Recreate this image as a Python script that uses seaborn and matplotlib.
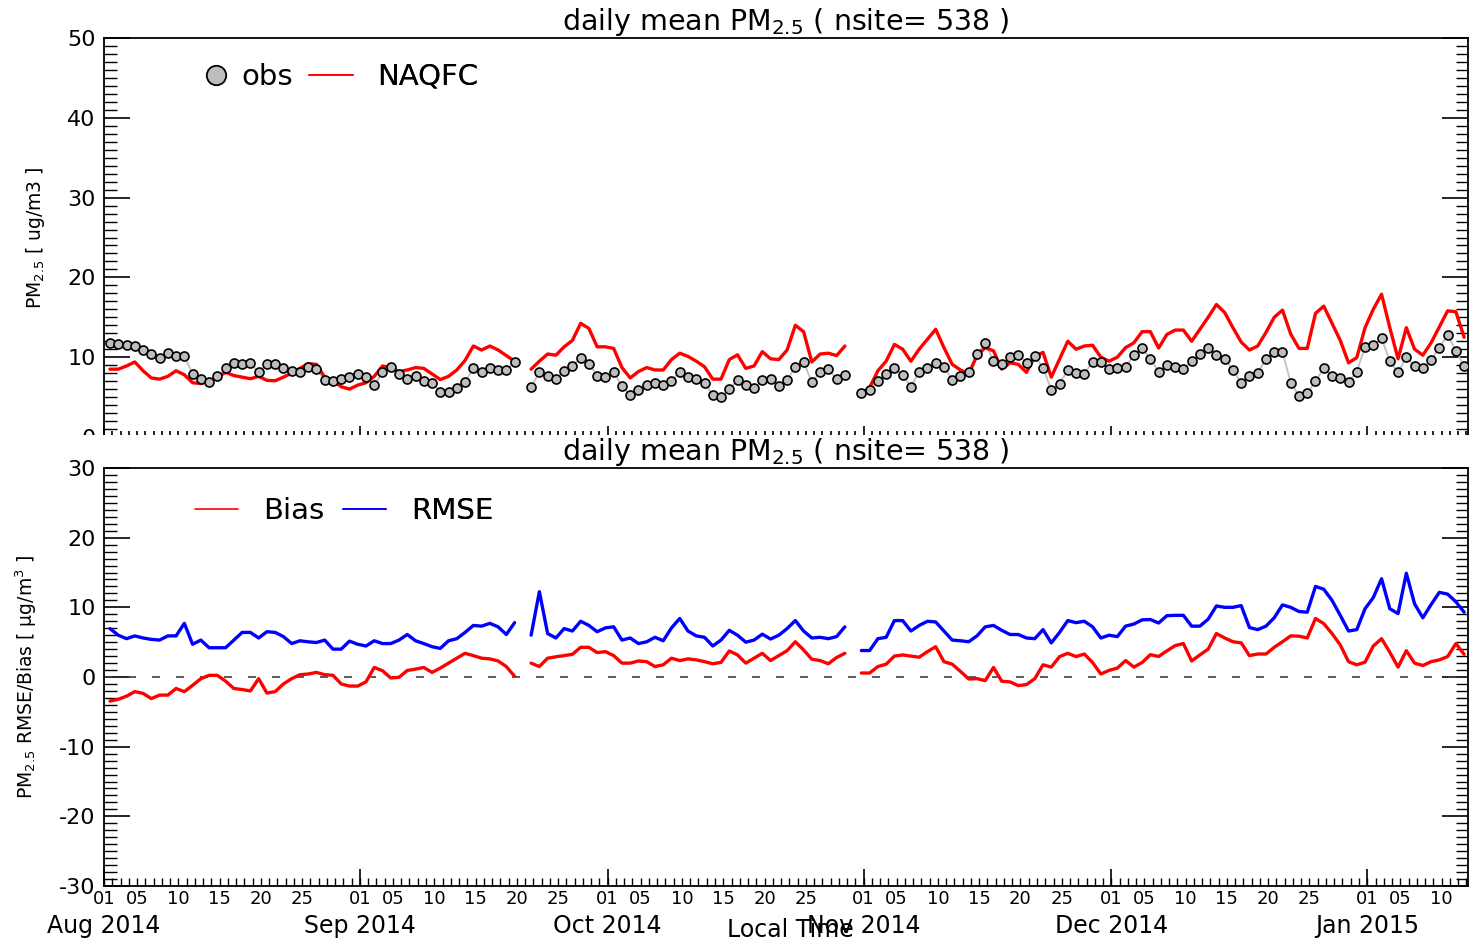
import numpy as np
import pandas as pd
import matplotlib
matplotlib.use("Agg")
import matplotlib.pyplot as plt
import matplotlib.dates as mdates
import seaborn as sns
from matplotlib.ticker import MultipleLocator, FuncFormatter
from matplotlib.lines import Line2D
from matplotlib.patches import Rectangle

nan = np.nan
# ---------------- data (daily, from 2014-08-01, 165 days; NaN = missing day) -------------
obs = ([11.8, 11.6, 11.5, 11.4, 10.9, 10.4, 9.9, 10.5, 10.1, 10.1,
        7.9, 7.3, 6.9, 7.6, 8.6, 9.25, 9.2, 9.3, 8.1, 9.2,
        9.2, 8.6, 8.3, 8.2, 8.8, 8.5, 7.1, 7.0, 7.25, 7.5,
        7.9, 7.5, 6.5, 8.1, 8.8, 7.9, 7.3, 7.6, 7.0, 6.75,
        5.7, 5.7, 6.1, 6.9, 8.6, 8.1, 8.7, 8.4, 8.4, 9.4]
       + [nan]
       + [6.3, 8.1, 7.7, 7.25, 8.3, 8.9, 9.9, 9.2, 7.7, 7.5,
          8.1, 6.4, 5.25, 5.9, 6.5, 6.8, 6.5, 7.0, 8.2, 7.5,
          7.25, 6.8, 5.3, 4.95, 6.0, 7.1, 6.5, 6.1, 7.1, 7.3,
          6.4, 7.1, 8.8, 9.4, 6.9, 8.1, 8.5, 7.3, 7.75]
       + [nan]
       + [5.5, 5.9, 7.0, 7.95, 8.6, 7.8, 6.3, 8.2, 8.7, 9.3,
          8.8, 7.2, 7.7, 8.2, 10.4, 11.8, 9.5, 9.1, 10.0, 10.3,
          9.3, 10.1, 8.7, 5.9, 6.7, 8.4, 8.0, 7.95, 9.4, 9.4,
          8.5, 8.6, 8.8, 10.25, 11.1, 9.8, 8.2, 9.05]
       + [8.8, 8.5, 9.5, 10.4, 11.1, 10.3, 9.75, 8.4, 6.75, 7.7,
          8.0, 9.8, 10.7, 10.7, 6.8, 5.2, 5.5, 7.0, 8.6, 7.7,
          7.4, 6.9, 8.2, 11.3, 11.5, 12.4, 9.5, 8.1, 10.0, 8.9,
          8.6, 9.7, 11.2, 12.8, 10.8, 8.9])

naqfc = ([8.5, 8.5, 8.9, 9.4, 8.3, 7.4, 7.25, 7.6, 8.3, 7.8,
          6.8, 6.7, 7.0, 7.5, 8.1, 7.7, 7.5, 7.3, 7.6, 7.1,
          7.05, 7.5, 8.0, 8.6, 9.2, 9.1, 7.5, 7.1, 6.3, 6.0,
          6.5, 6.8, 7.6, 8.9, 8.7, 8.2, 8.4, 8.7, 8.6, 7.9,
          7.2, 7.6, 8.4, 9.6, 11.4, 10.9, 11.4, 10.9, 10.2, 9.5]
         + [nan]
         + [8.5, 9.5, 10.4, 10.25, 11.3, 12.1, 14.25, 13.6, 11.3, 11.3,
            11.1, 8.7, 7.4, 8.2, 8.7, 8.4, 8.4, 9.7, 10.5, 10.1,
            9.5, 8.8, 7.25, 7.25, 9.7, 10.3, 8.6, 8.9, 10.7, 9.8,
            9.7, 10.9, 14.0, 13.2, 9.4, 10.4, 10.5, 10.2, 11.4]
         + [nan]
         + [5.5, 6.2, 8.3, 9.5, 11.6, 11.0, 9.5, 11.0, 12.25, 13.5,
            11.2, 9.1, 8.4, 7.9, 10.2, 11.2, 10.8, 8.5, 9.3, 9.1,
            8.1, 10.1, 10.6, 7.5, 9.75, 12.0, 11.0, 11.4, 11.5, 10.0,
            9.5, 10.0, 11.2, 11.8, 13.2, 13.2, 11.15, 12.85]
         + [13.4, 13.4, 12.0, 13.5, 15.0, 16.6, 15.6, 13.7, 11.9, 10.9,
            11.4, 13.1, 15.0, 15.9, 12.9, 11.1, 11.1, 15.5, 16.4, 14.25,
            12.1, 9.3, 9.95, 13.7, 16.0, 17.9, 13.7, 9.8, 13.7, 11.0,
            10.25, 11.8, 13.8, 15.8, 15.7, 12.5])

rmse = ([6.95, 6.0, 5.5, 5.9, 5.6, 5.4, 5.3, 5.9, 5.9, 7.7,
         4.7, 5.3, 4.2, 4.2, 4.2, 5.3, 6.4, 6.4, 5.6, 6.5,
         6.4, 5.8, 4.8, 5.2, 5.05, 4.95, 5.3, 4.0, 4.0, 5.15,
         4.7, 4.45, 5.2, 4.8, 4.8, 5.3, 6.1, 5.2, 4.8, 4.35,
         4.1, 5.2, 5.5, 6.4, 7.4, 7.3, 7.7, 7.2, 6.1, 7.8]
        + [nan]
        + [6.0, 12.25, 6.24, 5.6, 6.95, 6.6, 8.0, 7.4, 6.5, 7.05,
           7.2, 5.3, 5.6, 4.8, 5.05, 5.7, 5.2, 7.05, 8.4, 6.6,
           5.9, 5.7, 4.45, 5.3, 6.7, 6.0, 5.0, 5.3, 6.15, 5.45,
           6.0, 6.95, 8.1, 6.6, 5.6, 5.7, 5.5, 5.8, 7.2]
        + [nan]
        + [3.8, 3.8, 5.5, 5.7, 8.1, 8.1, 6.6, 7.4, 8.0, 7.9,
           6.6, 5.3, 5.2, 5.06, 5.9, 7.2, 7.4, 6.7, 6.1, 6.1,
           5.6, 5.5, 6.8, 4.9, 6.4, 8.1, 7.8, 8.0, 7.2, 5.6,
           6.0, 5.8, 7.3, 7.6, 8.2, 8.25, 7.75, 8.8]
        + [8.85, 8.85, 7.3, 7.3, 8.3, 10.2, 10.0, 10.0, 10.25, 7.1,
           6.8, 7.3, 8.5, 10.35, 10.0, 9.4, 9.3, 13.0, 12.6, 11.0,
           8.85, 6.6, 6.8, 9.8, 11.4, 14.1, 9.8, 9.1, 14.9, 10.5,
           8.5, 10.4, 12.15, 11.9, 10.8, 9.3])

bias = ([-3.45, -3.2, -2.75, -2.1, -2.35, -3.1, -2.6, -2.6, -1.65, -2.1,
         -1.2, -0.24, 0.24, 0.24, -0.6, -1.65, -1.8, -2.0, -0.24, -2.3,
         -2.1, -1.0, -0.24, 0.33, 0.43, 0.66, 0.33, 0.24, -1.0, -1.3,
         -1.3, -0.7, 1.37, 0.9, -0.14, -0.05, 0.94, 1.13, 1.37, 0.66,
         1.28, 1.99, 2.7, 3.4, 3.07, 2.7, 2.6, 2.3, 1.5, 0.1]
        + [nan]
        + [1.99, 1.5, 2.7, 2.9, 3.07, 3.26, 4.26, 4.26, 3.5, 3.64,
           3.07, 1.99, 1.99, 2.3, 2.2, 1.5, 1.75, 2.7, 2.36, 2.6,
           2.46, 2.2, 1.9, 2.1, 3.74, 3.17, 1.99, 2.7, 3.4, 2.36,
           3.07, 3.78, 5.06, 3.88, 2.55, 2.36, 1.9, 2.8, 3.4]
        + [nan]
        + [0.57, 0.57, 1.5, 1.84, 3.0, 3.17, 3.0, 2.84, 3.64, 4.35,
           2.2, 1.84, 0.8, -0.28, -0.24, -0.52, 1.37, -0.61, -0.7, -1.23,
           -1.09, -0.24, 1.75, 1.42, 2.93, 3.4, 2.93, 3.3, 2.08, 0.43,
           0.95, 1.28, 2.36, 1.42, 2.08, 3.2, 2.95, 3.75]
        + [4.5, 4.8, 2.3, 3.17, 4.0, 6.24, 5.6, 5.06, 4.9, 3.07,
           3.3, 3.3, 4.26, 5.06, 5.9, 5.86, 5.6, 8.4, 7.66, 6.24,
           4.6, 2.2, 1.75, 2.13, 4.45, 5.5, 3.55, 1.42, 3.78, 1.99,
           1.65, 2.2, 2.46, 2.93, 4.8, 3.26])

start_date = "2014-08-01"
title_txt = r"daily mean PM$_{2.5}$ ( nsite= 538 )"
day_labels = (1, 5, 10, 15, 20, 25)

# ---------------- frame ----------------
n = len(obs)
t0 = pd.Timestamp(start_date)
dates = [t0 + pd.Timedelta(days=i + 0.73) for i in range(n)]
df = pd.DataFrame({"x": mdates.date2num(dates), "obs": obs, "naqfc": naqfc,
                   "bias": bias, "rmse": rmse})
df["seg"] = np.cumsum(np.isnan(df["obs"].values))
d = df.dropna().copy()

sns.set_theme(style="ticks")
plt.rcParams["font.family"] = ["DejaVu Sans"]
plt.rcParams["axes.unicode_minus"] = False
plt.rcParams["axes.linewidth"] = 1.3
plt.rcParams["axes.edgecolor"] = "black"
plt.rcParams["axes.labelcolor"] = "black"
plt.rcParams["text.color"] = "black"
plt.rcParams["xtick.color"] = "black"
plt.rcParams["ytick.color"] = "black"

W, H = 1470, 941
fig = plt.figure(figsize=(W / 100, H / 100), dpi=100)
L, R = 104, 1468
ax1 = fig.add_axes([L / W, 1 - 437 / H, (R - L) / W, (437 - 38) / H])
ax2 = fig.add_axes([L / W, 1 - 886 / H, (R - L) / W, (886 - 468) / H])
ax1.set_zorder(0)
ax2.set_zorder(2)
fig.add_artist(Rectangle((0, 1 - 467 / H), 1, (467 - 435) / H, transform=fig.transFigure,
                         facecolor="white", edgecolor="none", zorder=1))

# ---- top panel
sns.lineplot(data=d, x="x", y="obs", units="seg", estimator=None, color="#c4c4c4",
             lw=1.4, ax=ax1, legend=False, zorder=2)
sns.lineplot(data=d, x="x", y="naqfc", units="seg", estimator=None, color="#ff0000",
             lw=2.4, ax=ax1, legend=False, zorder=3)
sns.scatterplot(data=d, x="x", y="obs", s=42, color="#bdbdbd", edgecolor="black",
                linewidth=1.2, ax=ax1, zorder=4, legend=False)

# ---- bottom panel
ax2.axhline(0, color="#404040", lw=1.2, ls=(0, (4.8, 9.6)), zorder=1)
sns.lineplot(data=d, x="x", y="rmse", units="seg", estimator=None, color="#0000ff",
             lw=2.4, ax=ax2, legend=False, zorder=3)
sns.lineplot(data=d, x="x", y="bias", units="seg", estimator=None, color="#ff0000",
             lw=2.4, ax=ax2, legend=False, zorder=3)

x0 = mdates.date2num(t0)
for ax in (ax1, ax2):
    ax.set_xlim(x0, x0 + 165.2)
    ax.yaxis.set_major_locator(MultipleLocator(10))
    ax.yaxis.set_minor_locator(MultipleLocator(1))
    ax.xaxis.set_major_locator(mdates.MonthLocator())
    ax.xaxis.set_minor_locator(mdates.DayLocator())
    ax.tick_params(axis="y", which="both", direction="in", left=True, right=True,
                   labelsize=16, pad=6)
    ax.tick_params(axis="y", which="major", length=19, width=1.2)
    ax.tick_params(axis="y", which="minor", length=9, width=1.0)
    ax.set_xlabel("")
    ax.set_ylabel("")

ax1.set_ylim(0, 50)
ax2.set_ylim(-30, 30)
ax1.set_title(title_txt, fontsize=20.5, pad=3)
ax2.set_title(title_txt, fontsize=20.5, pad=2)

ax1.spines["bottom"].set_visible(False)
ax1.tick_params(axis="x", which="both", direction="in", bottom=True, top=False,
                labelbottom=False)
ax1.tick_params(axis="x", which="major", length=8, width=1.2)
ax1.tick_params(axis="x", which="minor", length=4, width=1.2)

ax2.xaxis.remove_overlapping_locs = False
ax2.tick_params(axis="x", which="both", direction="in", bottom=True, top=False)
ax2.tick_params(axis="x", which="major", length=12, width=1.2, labelsize=17, pad=20)
ax2.tick_params(axis="x", which="minor", length=6, width=1.0, labelsize=13, pad=3)
ax2.xaxis.set_major_formatter(mdates.DateFormatter("%b %Y"))


def day_fmt(v, pos):
    dd = mdates.num2date(v).day
    return f"{dd:02d}" if dd in day_labels else ""


ax2.xaxis.set_minor_formatter(FuncFormatter(day_fmt))

ax1.set_ylabel(r"PM$_{2.5}$ [ ug/m3 ]", fontsize=13.5)
ax1.yaxis.set_label_coords(-0.042, 0.5)
ax2.set_ylabel(r"PM$_{2.5}$ RMSE/Bias [ μg/m$^3$ ]", fontsize=13.5)
ax2.yaxis.set_label_coords(-0.048, 0.5)
ax2.set_xlabel("Local Time", fontsize=17)
ax2.xaxis.set_label_coords((790 - L) / (R - L), (886 - 918) / 418)

# ---- legends
fs = 21
h_obs = Line2D([], [], marker="o", ls="none", markersize=14, markerfacecolor="#bdbdbd",
               markeredgecolor="black", markeredgewidth=1.3)
h_naq = Line2D([], [], color="#ff0000", lw=1.2)
h_bias = Line2D([], [], color="#ff0000", lw=1.2)
h_rmse = Line2D([], [], color="#0000ff", lw=1.2)


def add_leg(ax, h, lab, xpix, ytop_frac, hl, htp):
    lg = ax.legend([h], [lab], loc="upper left",
                   bbox_to_anchor=((xpix - L) / (R - L), ytop_frac),
                   frameon=False, fontsize=fs, handlelength=hl, handletextpad=htp,
                   borderpad=0, borderaxespad=0)
    ax.add_artist(lg)
    return lg


add_leg(ax1, h_obs, "obs", 202, (437 - 63) / 399, 0.95, 0.4)
add_leg(ax1, h_naq, "NAQFC", 309, (437 - 63) / 399, 1.5, 0.82)
add_leg(ax2, h_bias, "Bias", 195, (886 - 497) / 418, 1.48, 0.86)
add_leg(ax2, h_rmse, "RMSE", 343, (886 - 497) / 418, 1.48, 0.86)

fig.savefig("out.png", dpi=100)
